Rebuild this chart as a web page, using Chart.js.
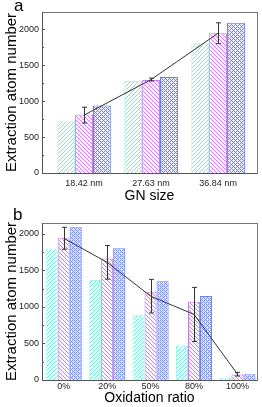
<!DOCTYPE html>
<html>
<head>
<meta charset="utf-8">
<script src="https://cdn.jsdelivr.net/npm/chart.js@4"></script>
<style>
    html, body { margin: 0; padding: 0; background: #fff; }
    body { width: 262px; height: 407px; position: relative; overflow: hidden; }
    canvas { position: absolute; left: 0; }
    #chartA { top: 0; }
    #chartB { top: 205px; }
</style>
</head>
<body>
<canvas id="chartA" width="262" height="205"></canvas>
<canvas id="chartB" width="262" height="202"></canvas>
<script>
// Panel a: GN size
const sizeLabels = ['18.42 nm', '27.63 nm', '36.84 nm'];
const sizeCyan = [720, 1280, 1805];
const sizeMagenta = [815, 1295, 1945];
const sizeBlue = [940, 1335, 2092];
const sizeMean = [805, 1300, 1945];
const sizeErr = [110, 20, 145];

// Panel b: oxidation ratio
const oxLabels = ['0%', '20%', '50%', '80%', '100%'];
const oxCyan = [1800, 1368, 895, 473, 30];
const oxMagenta = [1941, 1665, 1207, 1073, 75];
const oxBlue = [2093, 1803, 1352, 1150, 80];
const oxMean = [1941, 1611, 1148, 898, 80];
const oxErr = [150, 230, 230, 370, 25];

const yTicks = [0, 500, 1000, 1500, 2000];
const FONT = '"Liberation Sans", Arial, sans-serif';

// small hatch tiles for the bars
function hatch(color, bg, kind) {
    const c = document.createElement('canvas');
    c.width = 4;
    c.height = 4;
    const g = c.getContext('2d');
    g.fillStyle = bg;
    g.fillRect(0, 0, 4, 4);
    g.fillStyle = color;
    for (let i = 0; i < 4; i++) {
        if (kind === 'fwd' || kind === 'cross') g.fillRect(i, 3 - i, 1, 1);
        if (kind === 'back') g.fillRect(i, i, 1, 1);
        if (kind === 'cross' && i % 2 === 0) g.fillRect(i, (i + 1) % 4, 1, 1);
    }
    return g.createPattern(c, 'repeat');
}

function toXY(values) {
    return values.map((v, i) => ({ x: i + 1, y: v }));
}

// frame, inward ticks, error bars and the panel letter
const decor = {
    id: 'decor',
    afterDatasetsDraw(chart, args, opts) {
        const g = chart.ctx;
        const area = chart.chartArea;
        const y = chart.scales.y;
        const x = chart.scales.x;
        g.save();

        // error bars on the mean line
        g.strokeStyle = '#333';
        g.lineWidth = 1;
        opts.mean.forEach((m, i) => {
            const px = Math.round(x.getPixelForValue(i + 1)) + 0.5;
            const top = y.getPixelForValue(m + opts.err[i]);
            const bot = y.getPixelForValue(m - opts.err[i]);
            g.beginPath();
            g.moveTo(px, top);
            g.lineTo(px, bot);
            g.moveTo(px - 2.5, top);
            g.lineTo(px + 2.5, top);
            g.moveTo(px - 2.5, bot);
            g.lineTo(px + 2.5, bot);
            g.stroke();
        });

        // plot frame
        g.strokeStyle = '#777';
        g.strokeRect(Math.round(area.left) + 0.5, Math.round(area.top) + 0.5,
            Math.round(area.right - area.left), Math.round(area.bottom - area.top));
        g.strokeStyle = '#555';
        g.beginPath();
        g.moveTo(Math.round(area.left) + 0.5, area.top);
        g.lineTo(Math.round(area.left) + 0.5, area.bottom + 0.5);
        g.lineTo(area.right, Math.round(area.bottom) + 0.5);
        g.stroke();

        // inward ticks, minor every 250
        g.beginPath();
        for (let v = 0; v <= y.max; v += 250) {
            const py = Math.round(y.getPixelForValue(v)) + 0.5;
            const len = v % 500 === 0 ? 3 : 2;
            g.moveTo(area.left, py);
            g.lineTo(area.left + len, py);
        }
        g.stroke();

        // panel letter
        g.fillStyle = '#000';
        g.font = '17px ' + FONT;
        g.textBaseline = 'alphabetic';
        g.fillText(opts.letter, opts.lx, opts.ly);
        g.restore();
    }
};

function makeChart(el, cfg) {
    const barBase = {
        type: 'bar',
        borderWidth: 1,
        barPercentage: 1,
        categoryPercentage: cfg.catPct,
        order: 1
    };
    return new Chart(el, {
        type: 'bar',
        data: {
            datasets: [
                {
                    type: 'line',
                    data: toXY(cfg.mean),
                    borderColor: '#333',
                    borderWidth: 1,
                    pointRadius: 0,
                    tension: 0,
                    order: 0
                },
                Object.assign({}, barBase, {
                    data: toXY(cfg.cyan),
                    backgroundColor: hatch('#6feed6', '#f2fefb', 'fwd'),
                    borderColor: '#a6f6e8'
                }),
                Object.assign({}, barBase, {
                    data: toXY(cfg.magenta),
                    backgroundColor: hatch('#d080f2', '#fbf2fe', 'back'),
                    borderColor: '#c47cf0'
                }),
                Object.assign({}, barBase, {
                    data: toXY(cfg.blue),
                    backgroundColor: hatch('#7686f2', '#e8ebfd', 'cross'),
                    borderColor: '#6a7cf4'
                })
            ]
        },
        options: {
            responsive: false,
            animation: false,
            devicePixelRatio: 1,
            layout: { padding: { top: cfg.padTop, right: 5, left: 0, bottom: 0 } },
            plugins: {
                legend: { display: false },
                tooltip: { enabled: false },
                decor: {
                    letter: cfg.letter,
                    lx: cfg.lx,
                    ly: cfg.ly,
                    mean: cfg.mean,
                    err: cfg.err
                }
            },
            scales: {
                x: {
                    type: 'linear',
                    offset: false,
                    min: cfg.xMin,
                    max: cfg.xMax,
                    grid: { display: false, drawTicks: false },
                    border: { display: false },
                    afterBuildTicks: axis => {
                        axis.ticks = cfg.labels.map((l, i) => ({ value: i + 1 }));
                    },
                    afterFit: axis => { axis.height = cfg.xHeight; },
                    ticks: {
                        autoSkip: false,
                        maxRotation: 0,
                        padding: cfg.xPad,
                        color: '#222',
                        font: { family: FONT, size: 9 },
                        callback: v => cfg.labels[Math.round(v) - 1]
                    },
                    title: {
                        display: true,
                        text: cfg.xTitle,
                        color: '#000',
                        font: { family: FONT, size: 14 },
                        padding: { top: 0, bottom: 0 }
                    }
                },
                y: {
                    min: 0,
                    max: cfg.yMax,
                    grid: { display: false, drawTicks: false },
                    border: { display: false },
                    afterBuildTicks: axis => {
                        axis.ticks = yTicks.map(v => ({ value: v }));
                    },
                    afterFit: axis => { axis.width = 42; },
                    ticks: {
                        padding: 3,
                        color: '#222',
                        font: { family: FONT, size: 9 },
                        callback: v => String(v)
                    },
                    title: {
                        display: true,
                        text: 'Extraction atom number',
                        color: '#000',
                        font: { family: FONT, size: 15 },
                        padding: { top: 3, bottom: 0 }
                    }
                }
            }
        },
        plugins: [decor]
    });
}

makeChart(document.getElementById('chartA'), {
    labels: sizeLabels,
    cyan: sizeCyan,
    magenta: sizeMagenta,
    blue: sizeBlue,
    mean: sizeMean,
    err: sizeErr,
    xMin: 0.373,
    xMax: 3.58,
    catPct: 0.8,
    yMax: 2240,
    padTop: 12,
    xHeight: 32,
    xPad: 5,
    xTitle: 'GN size',
    letter: 'a',
    lx: 14,
    ly: 11
});

makeChart(document.getElementById('chartB'), {
    labels: oxLabels,
    cyan: oxCyan,
    magenta: oxMagenta,
    blue: oxBlue,
    mean: oxMean,
    err: oxErr,
    xMin: 0.5,
    xMax: 5.45,
    catPct: 0.83,
    yMax: 2150,
    padTop: 18,
    xHeight: 27,
    xPad: 1.5,
    xTitle: 'Oxidation ratio',
    letter: 'b',
    lx: 13,
    ly: 15
});
</script>
</body>
</html>
